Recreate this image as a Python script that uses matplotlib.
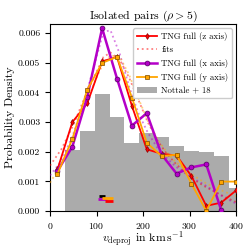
import numpy as np
import matplotlib
matplotlib.use('Agg')
from matplotlib import pyplot as plt

#############################################
#CHART TEMPLATE
cm_theme = {'font.family': 'serif',
            'font.serif': ['cmr10'],
            'mathtext.fontset': 'cm',
            'axes.formatter.use_mathtext': True,
            'font.size': 7.5,
            'xtick.labelsize': 7,
            'ytick.labelsize': 7,
            'axes.labelsize': 8.5,
            'axes.titlesize': 8.5,
            'legend.fontsize': 6.3,
            'axes.linewidth': 0.8}
matplotlib.rcParams.update(cm_theme)
#############################################

#############################################
#Data
# Nottale+18 histogram (bins of 32 km/s starting at 32)
hist_edges_left = [32, 64, 96, 128, 160, 192, 224, 256, 288, 320, 352, 384]
hist_heights = [0.00206, 0.00271, 0.00395, 0.00318, 0.00230, 0.00263,
                0.00250, 0.00218, 0.00204, 0.00200, 0.00187, 0.00079]
bin_width = 32

v_centres = [16, 48, 80, 112, 144, 176, 208, 240, 272, 304, 336, 368, 400]
z_axis = [0.00140, 0.00300, 0.00363, 0.00505, 0.00520, 0.00355, 0.00208,
          0.00193, 0.00187, 0.00118, 0.00017, 0.00028, 0.00069]
x_axis = [0.00135, 0.00217, 0.00385, 0.00617, 0.00447, 0.00288, 0.00330,
          0.00190, 0.00126, 0.00147, 0.00157, 0.00003]
y_axis = [0.00125, 0.00243, 0.00410, 0.00500, 0.00520, 0.00383, 0.00230,
          0.00185, 0.00190, 0.00092, 0.00000, 0.00099, 0.00099]

# fit curves (sampled by eye)
fit_v = [0, 25, 50, 75, 100, 115, 130, 150, 170, 190, 210, 230, 250,
         270, 290, 310, 330, 350, 375, 400]
fit_z = [0.00153, 0.00210, 0.00290, 0.00385, 0.00470, 0.00520, 0.00535,
         0.00510, 0.00450, 0.00375, 0.00300, 0.00240, 0.00195, 0.00160,
         0.00130, 0.00105, 0.00085, 0.00068, 0.00048, 0.00030]
fit_x = [0.00120, 0.00170, 0.00260, 0.00380, 0.00520, 0.00605, 0.00610,
         0.00530, 0.00420, 0.00330, 0.00265, 0.00215, 0.00180, 0.00150,
         0.00128, 0.00108, 0.00090, 0.00070, 0.00045, 0.00025]
fit_y = [0.00095, 0.00160, 0.00250, 0.00360, 0.00450, 0.00500, 0.00525,
         0.00520, 0.00460, 0.00380, 0.00305, 0.00245, 0.00200, 0.00165,
         0.00140, 0.00118, 0.00098, 0.00082, 0.00065, 0.00050]

# mean markers with horizontal spread
mean_v = [112, 113, 123, 127]
mean_err = [6, 9, 12, 9]
mean_y = [0.00051, 0.00040, 0.00043, 0.00035]
mean_col = ['k', '#b400c8', 'orange', 'red']
#############################################

fig = plt.figure(figsize=(2.49, 2.49), dpi=100)
ax = fig.add_axes([0.201, 0.153, 0.747, 0.749])

ax.bar(hist_edges_left, hist_heights, width=bin_width, align='edge',
       color='0.67', label='Nottale + 18', zorder=1)

ax.plot(v_centres, z_axis, color='red', lw=1.3, marker='d', ms=3,
        mec='darkred', mew=0.5, label='TNG full (z axis)', zorder=4)
ax.plot(fit_v, fit_z, color='red', ls=':', lw=1.3, alpha=0.5,
        label='fits', zorder=3)
ax.plot(v_centres[:len(x_axis)], x_axis, color='#b400c8', lw=1.8,
        marker='o', ms=3.5, mec='#500060', mew=0.5,
        label='TNG full (x axis)', zorder=4)
ax.plot(fit_v, fit_x, color='#b400c8', ls=':', lw=1.3, alpha=0.5, zorder=3)
ax.plot(v_centres, y_axis, color='orange', lw=1.3, marker='s', ms=3.5,
        mec='#7a4a00', mew=0.5, label='TNG full (y axis)', zorder=4)
ax.plot(fit_v, fit_y, color='orange', ls=':', lw=1.3, alpha=0.5, zorder=3)

for v, e, yy, c in zip(mean_v, mean_err, mean_y, mean_col):
    ax.errorbar(v, yy, xerr=e, fmt='none', ecolor=c, elinewidth=2,
                capsize=0, zorder=5)

ax.set_xlim(0, 400)
ax.set_ylim(0, 0.0063)
ax.set_xticks([0, 100, 200, 300, 400])
ax.set_yticks(np.arange(0, 0.0061, 0.001))
ax.yaxis.set_major_formatter(matplotlib.ticker.FormatStrFormatter('%.3f'))
ax.set_xlabel(r'$v_{\rm deproj}$ in km$\,$s$^{-1}$', labelpad=-1)
ax.set_ylabel('Probability Density', labelpad=2)
ax.set_title(r'Isolated pairs ($\rho > 5$)', pad=3)

handles, labels = ax.get_legend_handles_labels()
ax.legend(handles, labels, loc='upper right', handlelength=2.3,
          borderpad=0.4, labelspacing=0.55, handletextpad=0.5,
          borderaxespad=0.45, framealpha=1)

plt.savefig('out.png', dpi=100)
